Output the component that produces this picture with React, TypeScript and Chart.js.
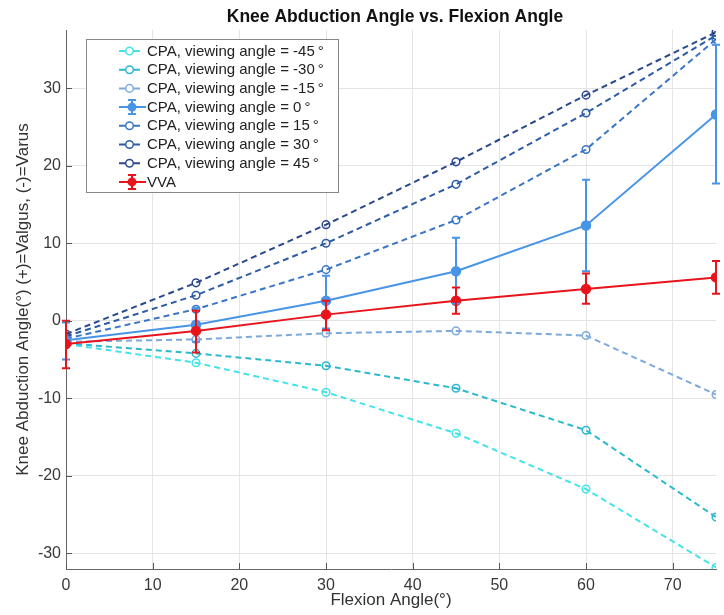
import React, { useEffect, useRef } from "react";
import { Chart, registerables } from "chart.js";

Chart.register(...registerables);

const flexion = [0, 15, 30, 45, 60, 75];
const cpaM45 = [-3.0, -5.4, -9.2, -14.5, -21.7, -31.8];
const cpaM30 = [-2.9, -4.2, -5.8, -8.7, -14.1, -25.3];
const cpaM15 = [-2.7, -2.4, -1.6, -1.3, -1.9, -9.5];
const cpa0 = [-2.5, -0.5, 2.6, 6.4, 12.3, 26.6];
const cpa0Low = [-5.0, -2.7, -1.0, 2.2, 6.4, 17.7];
const cpa0High = [-0.2, 1.7, 5.8, 10.7, 18.2, 35.6];
const cpa15 = [-2.3, 1.5, 6.6, 13.0, 22.1, 36.3];
const cpa30 = [-2.0, 3.3, 10.0, 17.6, 26.8, 36.8];
const cpa45 = [-1.7, 4.9, 12.4, 20.5, 29.1, 37.2];
const vva = [-3.0, -1.3, 0.8, 2.6, 4.1, 5.6];
const vvaLow = [-6.1, -4.1, -1.2, 0.9, 2.2, 3.5];
const vvaHigh = [0.0, 1.3, 2.6, 4.3, 6.1, 7.7];

const seriesLabels = [
  "CPA, viewing angle = -45\u2009°",
  "CPA, viewing angle = -30\u2009°",
  "CPA, viewing angle = -15\u2009°",
  "CPA, viewing angle = 0\u2009°",
  "CPA, viewing angle = 15\u2009°",
  "CPA, viewing angle = 30\u2009°",
  "CPA, viewing angle = 45\u2009°",
  "VVA",
];
const seriesColors = ["#45e3e8", "#2bb9cc", "#7ea9dc", "#4894e6", "#3a76c6", "#2e5ca6", "#2a488c", "#e8141c"];
const chartTitle = "Knee Abduction Angle vs. Flexion Angle";
const xTitle = "Flexion Angle(°)";
const yTitle = "Knee Abduction Angle(°) (+)=Valgus, (-)=Varus";
const xTicks = [0, 10, 20, 30, 40, 50, 60, 70];
const yTicks = [-30, -20, -10, 0, 10, 20, 30];

const FONT = "'Liberation Sans', Arial, Helvetica, sans-serif";

const toPts = (ys: number[]) => ys.map((y, i) => ({ x: flexion[i], y }));

export default function App() {
  const ref = useRef<HTMLCanvasElement | null>(null);
  useEffect(() => {
    if (!ref.current) return;
    const seriesData = [cpaM45, cpaM30, cpaM15, cpa0, cpa15, cpa30, cpa45, vva];
    const errLow: (number[] | null)[] = [null, null, null, cpa0Low, null, null, null, vvaLow];
    const errHigh: (number[] | null)[] = [null, null, null, cpa0High, null, null, null, vvaHigh];
    const hasErr = (i: number) => errLow[i] !== null;

    const datasets = seriesData.map((d, i) => {
      const solid = hasErr(i);
      return {
        label: seriesLabels[i],
        data: toPts(d),
        borderColor: seriesColors[i],
        backgroundColor: solid ? seriesColors[i] : "rgba(255,255,255,0)",
        pointBackgroundColor: solid ? seriesColors[i] : "rgba(255,255,255,0)",
        pointBorderColor: seriesColors[i],
        borderWidth: 2,
        borderDash: solid ? [] : [6, 4],
        pointRadius: solid ? 4.5 : 3.8,
        pointBorderWidth: 1.5,
        tension: 0,
        order: i === 7 ? 0 : i === 3 ? 1 : 10 - i,
      };
    });

    const errorBars = {
      id: "errorBars",
      afterDatasetsDraw(chart: any) {
        const ctx = chart.ctx;
        const xs = chart.scales.x;
        const ys = chart.scales.y;
        [3, 7].forEach((i) => {
          const lo = errLow[i]!;
          const hi = errHigh[i]!;
          ctx.save();
          ctx.strokeStyle = seriesColors[i];
          ctx.lineWidth = 2;
          flexion.forEach((fx, k) => {
            const px = xs.getPixelForValue(fx);
            const p1 = ys.getPixelForValue(lo[k]);
            const p2 = ys.getPixelForValue(hi[k]);
            ctx.beginPath();
            ctx.moveTo(px, p1);
            ctx.lineTo(px, p2);
            ctx.moveTo(px - 4, p1);
            ctx.lineTo(px + 4, p1);
            ctx.moveTo(px - 4, p2);
            ctx.lineTo(px + 4, p2);
            ctx.stroke();
          });
          ctx.restore();
        });
      },
    };

    const decorations = {
      id: "decorations",
      afterDraw(chart: any) {
        const ctx = chart.ctx;
        const area = chart.chartArea;
        const xs = chart.scales.x;
        const ys = chart.scales.y;
        ctx.save();
        // inward tick marks
        ctx.strokeStyle = "#555";
        ctx.lineWidth = 1;
        ctx.beginPath();
        xTicks.forEach((t) => {
          const px = Math.round(xs.getPixelForValue(t)) + 0.5;
          ctx.moveTo(px, area.bottom);
          ctx.lineTo(px, area.bottom - 6);
        });
        yTicks.forEach((t) => {
          const py = Math.round(ys.getPixelForValue(t)) + 0.5;
          ctx.moveTo(area.left, py);
          ctx.lineTo(area.left + 6, py);
        });
        ctx.stroke();
        // title
        ctx.fillStyle = "#111";
        ctx.font = `bold 17.5px ${FONT}`;
        ctx.textAlign = "center";
        ctx.textBaseline = "middle";
        ctx.fillText(chartTitle, (area.left + area.right) / 2 + 4, 17);
        // legend
        const lx = 86, ly = 39, lw = 252, lh = 153;
        ctx.fillStyle = "#fff";
        ctx.fillRect(lx, ly, lw, lh);
        ctx.strokeStyle = "#888";
        ctx.lineWidth = 1;
        ctx.strokeRect(lx + 0.5, ly + 0.5, lw, lh);
        ctx.font = `15px ${FONT}`;
        ctx.textAlign = "left";
        ctx.textBaseline = "middle";
        seriesLabels.forEach((lab, i) => {
          const cy = 51 + i * 18.7;
          const c = seriesColors[i];
          ctx.strokeStyle = c;
          ctx.lineWidth = 2;
          if (hasErr(i)) {
            ctx.setLineDash([]);
            ctx.beginPath();
            ctx.moveTo(119, cy);
            ctx.lineTo(146, cy);
            ctx.moveTo(132, cy - 7);
            ctx.lineTo(132, cy + 7);
            ctx.moveTo(128, cy - 7);
            ctx.lineTo(136, cy - 7);
            ctx.moveTo(128, cy + 7);
            ctx.lineTo(136, cy + 7);
            ctx.stroke();
            ctx.fillStyle = c;
            ctx.beginPath();
            ctx.arc(132, cy, 4.5, 0, Math.PI * 2);
            ctx.fill();
          } else {
            ctx.setLineDash([]);
            ctx.beginPath();
            ctx.moveTo(119, cy);
            ctx.lineTo(125, cy);
            ctx.moveTo(134, cy);
            ctx.lineTo(140, cy);
            ctx.stroke();
            ctx.lineWidth = 1.5;
            ctx.beginPath();
            ctx.arc(129.5, cy, 3.8, 0, Math.PI * 2);
            ctx.stroke();
          }
          ctx.fillStyle = "#222";
          ctx.fillText(lab, 147, cy + 0.5);
        });
        ctx.restore();
      },
    };

    const chart = new Chart(ref.current, {
      type: "line",
      data: { datasets: datasets as any },
      plugins: [errorBars, decorations],
      options: {
        animation: false,
        responsive: false,
        devicePixelRatio: 1,
        layout: { padding: { left: 0, right: 8, top: 30, bottom: 0 } },
        plugins: { legend: { display: false }, tooltip: { enabled: false }, title: { display: false } },
        scales: {
          x: {
            type: "linear",
            min: 0,
            max: 75,
            afterBuildTicks: (s: any) => {
              s.ticks = xTicks.map((v) => ({ value: v }));
            },
            afterFit: (s: any) => {
              s.height = 46;
            },
            grid: { color: "#e4e4e4", drawTicks: false },
            border: { color: "#666", width: 1 },
            ticks: { padding: 7, color: "#383838", font: { family: FONT, size: 16 } },
            title: { display: true, text: xTitle, color: "#333", font: { family: FONT, size: 17 }, padding: { top: 0, bottom: 4 } },
          },
          y: {
            type: "linear",
            min: -32,
            max: 37.5,
            afterBuildTicks: (s: any) => {
              s.ticks = yTicks.map((v) => ({ value: v }));
            },
            afterFit: (s: any) => {
              s.width = 66;
            },
            grid: { color: "#e4e4e4", drawTicks: false },
            border: { color: "#666", width: 1 },
            ticks: { padding: 5, color: "#383838", font: { family: FONT, size: 16 } },
            title: { display: true, text: yTitle, color: "#333", font: { family: FONT, size: 17 }, padding: { top: 13, bottom: 0 } },
          },
        },
      },
    });
    return () => chart.destroy();
  }, []);
  return (
    <div style={{ position: "absolute", left: 0, top: 0, width: 724, height: 615, background: "#fff" }}>
      <canvas ref={ref} width={724} height={615} style={{ width: 724, height: 615, display: "block" }} />
    </div>
  );
}
